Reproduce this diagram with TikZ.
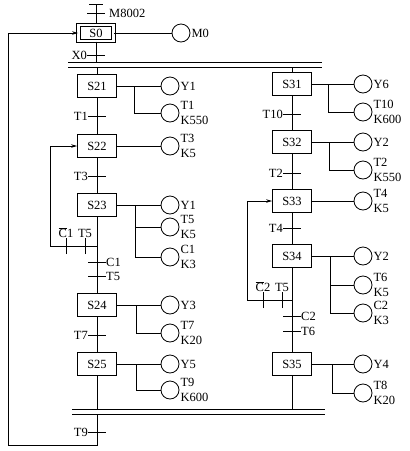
\documentclass[tikz,border=0pt]{standalone}
\usepackage{fontspec}
\setmainfont{Liberation Serif}
\usetikzlibrary{arrows.meta}

\newcommand{\nbar}[1]{$\overline{\mbox{#1}}$}

\begin{document}
\begin{tikzpicture}[x=1pt, y=-1pt,
    font=\fontsize{12.5}{14.5}\selectfont,
    stepbox/.style={draw, thick, minimum width=39pt, minimum height=23pt, inner sep=1pt},
    initbox/.style={draw, line width=0.9pt, double, double distance=2.4pt, minimum width=35pt, minimum height=16.5pt, inner sep=1pt},
    lbl/.style={inner sep=1pt, align=left, font=\fontsize{12.5}{14.5}\selectfont},
    act/.style={draw, circle, thick, minimum size=18pt, inner sep=0pt, label={[lbl]0:{#1}}},
    line/.style={line width=0.8pt},
    trans/.style={line width=0.8pt},
    bus/.style={line width=1pt},
    back/.style={line width=0.8pt, -{Stealth[length=6pt, width=3.5pt]}}
]
\useasboundingbox (0,0) rectangle (410,451);

% Steps
\node[initbox] (S0) at (96,33) {S0};
\foreach \n/\x/\y in {S21/97/86, S22/97/146, S23/97/205, S24/97/305, S25/97/364,
                      S31/292/84, S32/292/142, S33/292/201, S34/292/256, S35/292/364}
    \node[stepbox] (\n) at (\x,\y) {\n};

% Actions
\node[act=M0]          (m0)  at (181,33)  {};
\node[act=Y1]          (a21a) at (170,86)  {};
\node[act={T1\\K550}]  (a21b) at (170,113) {};
\node[act={T3\\K5}]    (a22a) at (170,146) {};
\node[act=Y1]          (a23a) at (170,205) {};
\node[act={T5\\K5}]    (a23b) at (170,227) {};
\node[act={C1\\K3}]    (a23c) at (170,257) {};
\node[act=Y3]          (a24a) at (170,305) {};
\node[act={T7\\K20}]   (a24b) at (170,333) {};
\node[act=Y5]          (a25a) at (170,364) {};
\node[act={T9\\K600}]  (a25b) at (170,390) {};

\node[act=Y6]          (a31a) at (363,84)  {};
\node[act={T10\\K600}] (a31b) at (363,112) {};
\node[act=Y2]          (a32a) at (363,142) {};
\node[act={T2\\K550}]  (a32b) at (363,170) {};
\node[act={T4\\K5}]    (a33a) at (363,201) {};
\node[act=Y2]          (a34a) at (363,256) {};
\node[act={T6\\K5}]    (a34b) at (363,285) {};
\node[act={C2\\K3}]    (a34c) at (363,313) {};
\node[act=Y4]          (a35a) at (363,364) {};
\node[act={T8\\K20}]   (a35b) at (363,393) {};

% Step to action lines
\draw[line] (S0) -- (m0);
\foreach \s/\a in {S21/a21a, S22/a22a, S23/a23a, S24/a24a, S25/a25a,
                   S31/a31a, S32/a32a, S33/a33a, S34/a34a, S35/a35a}
    \draw[line] (\s) -- (\a);
\foreach \s/\a/\bx in {S21/a21b/134, S23/a23b/135, S23/a23c/135, S24/a24b/136, S25/a25b/136,
                       S31/a31b/328, S32/a32b/329, S34/a34b/330, S34/a34c/330, S35/a35b/332}
    \draw[line] (\s.east -| \bx,0) |- (\a);

% Transitions
\coordinate (top)   at (96,4);
\coordinate (m8002) at (96,13);
\coordinate (x0)    at (96,55);
\coordinate (t1)    at (97,116);
\coordinate (t3)    at (97,176);
\coordinate (c1)    at (97,262);
\coordinate (t5)    at (97,276);
\coordinate (t7)    at (97,335);
\coordinate (t9)    at (97,432);
\coordinate (t10)   at (292,114);
\coordinate (t2)    at (292,173);
\coordinate (t4)    at (292,228);
\coordinate (c2)    at (292,316);
\coordinate (t6)    at (292,331);

\foreach \t in {m8002, x0, t1, t3, c1, t5, t7, t9, t10, t2, t4, c2, t6}
    \draw[trans] ([xshift=-9pt]\t) -- ([xshift=9pt]\t);
\draw[trans] ([xshift=-7pt]top) -- ([xshift=7pt]top);

\node[lbl, anchor=west] at ([xshift=12pt]m8002) {M8002};
\foreach \t/\l in {x0/X0, t1/T1, t3/T3, t7/T7, t9/T9, t10/T10, t2/T2, t4/T4}
    \node[lbl, anchor=east] at ([xshift=-8pt]\t) {\l};
\foreach \t/\l in {c1/C1, t5/T5, c2/C2, t6/T6}
    \node[lbl, anchor=west] at ([xshift=8pt]\t) {\l};

% Parallel branch lines
\coordinate (busA1) at (68,62);  \coordinate (busB1) at (322,62);
\coordinate (busA2) at (68,67);  \coordinate (busB2) at (322,67);
\coordinate (busC1) at (72,409); \coordinate (busD1) at (325,409);
\coordinate (busC2) at (72,414); \coordinate (busD2) at (325,414);
\draw[bus] (busA1) -- (busB1);
\draw[bus] (busA2) -- (busB2);
\draw[bus] (busC1) -- (busD1);
\draw[bus] (busC2) -- (busD2);

% Main flow
\draw[line] (top) -- (S0);
\draw[line] (S0) -- (S0 |- busA1);
\draw[line] (S21 |- busA2) -- (S21) -- (S22) -- (S23) -- (S24) -- (S25) -- (S25 |- busC1);
\draw[line] (S31 |- busA2) -- (S31) -- (S32) -- (S33) -- (S34) -- (S35) -- (S35 |- busC1);

% Jumps back
\coordinate (loopA) at (97,246);
\coordinate (loopB) at (292,300);
\coordinate (ret)   at (97,445);
\draw[back] (loopA) -| (50,0 |- S22) -- (S22.west);
\draw[back] (loopB) -| (247,0 |- S33) -- (S33.west);
\draw[back] (S25 |- busC2) -- (ret) -| (8,0 |- S0) -- (S0.west);

% Conditions on the jumps
\foreach \p/\x/\y in {lpc1/66/246, lpt5/85/246, lpc2/263/300, lpt5b/282/300}
    \coordinate (\p) at (\x,\y);
\foreach \p in {lpc1, lpt5, lpc2, lpt5b}
    \draw[trans] ([yshift=-8pt]\p) -- ([yshift=8pt]\p);
\node[lbl, anchor=south] at ([yshift=7pt]lpc1)  {\nbar{C}1};
\node[lbl, anchor=south] at ([yshift=7pt]lpt5)  {T5};
\node[lbl, anchor=south] at ([yshift=7pt]lpc2)  {\nbar{C}2};
\node[lbl, anchor=south] at ([yshift=7pt]lpt5b) {T5};

\end{tikzpicture}
\end{document}
